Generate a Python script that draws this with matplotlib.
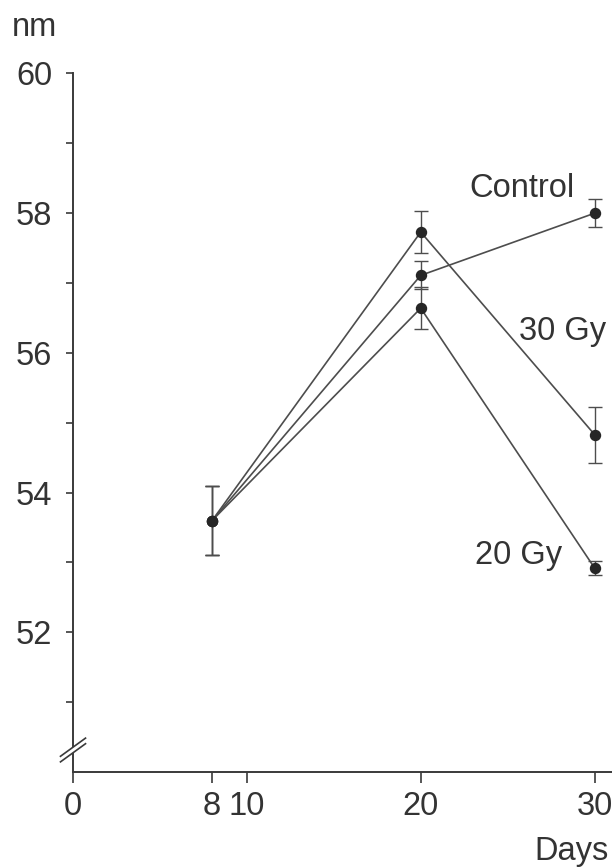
import matplotlib
matplotlib.use("Agg")
import matplotlib.pyplot as plt
import numpy as np

plt.rcParams['font.family'] = ['Liberation Sans', 'DejaVu Sans']

# Measurement days and mean values (nm) per group
days = [8, 20, 30]
control = [53.6, 57.11, 58.0]
gy30 = [53.6, 57.73, 54.83]
gy20 = [53.6, 56.64, 52.92]

# Standard errors per group
control_err = [0.5, 0.2, 0.2]
gy30_err = [0.5, 0.3, 0.4]
gy20_err = [0.5, 0.3, 0.1]

series_names = ["Control", "30 Gy", "20 Gy"]

x_ticks = [0, 8, 10, 20, 30]
x_tick_labels = ["0", "8", "10", "20", "30"]
y_major = [52, 54, 56, 58, 60]
y_minor = [51, 53, 55, 57, 59]

ink = "#333333"
line_col = "#4d4d4d"
fs = 23.5

fig = plt.figure(figsize=(6.12, 8.68), dpi=100)
fig.patch.set_facecolor("white")
ax = fig.add_axes([73 / 612, 1 - 772 / 868, (612 - 73) / 612, (772 - 73.5) / 868])
ax.set_xlim(0, 31)
ax.set_ylim(50, 60)

for vals, errs in [(control, control_err), (gy30, gy30_err), (gy20, gy20_err)]:
    ax.plot(days, vals, color=line_col, lw=1.2, zorder=2)
    ax.errorbar(days, vals, yerr=errs, fmt="none", ecolor=line_col,
                elinewidth=1.0, capsize=4.7, capthick=1.0, zorder=2)
    ax.plot(days, vals, "o", color="#262626", ms=7.2, zorder=3, clip_on=False)

# Spines and ticks
for s in ["top", "right"]:
    ax.spines[s].set_visible(False)
for s in ["left", "bottom"]:
    ax.spines[s].set_color("#3a3a3a")
    ax.spines[s].set_linewidth(1.4)

ax.set_xticks(x_ticks)
ax.set_xticklabels(x_tick_labels)
ax.set_yticks(y_major)
ax.set_yticks(y_minor, minor=True)
ax.tick_params(axis="x", direction="out", length=8, width=1.2, colors="#3a3a3a",
               labelcolor=ink, labelsize=fs, pad=6)
ax.tick_params(axis="y", which="both", direction="out", length=5, width=1.2,
               colors="#3a3a3a", labelcolor=ink, labelsize=fs, pad=10)

# Axis break marks on the y axis
yc, dx, dy, gap = 50.315, 0.72, 0.13, 0.04
xs = np.array([-dx, dx])
ax.fill([-dx, dx, dx, -dx], [yc - dy - gap, yc + dy - gap, yc + dy + gap, yc - dy + gap],
        color="white", zorder=4, clip_on=False, lw=0)
for off in (-gap, gap):
    ax.plot(xs, [yc - dy + off, yc + dy + off], color="#3a3a3a", lw=1.2,
            zorder=5, clip_on=False)

# Series labels
ax.text(28.85, 58.23, series_names[0], ha="right", va="baseline", fontsize=fs, color=ink)
ax.text(30.69, 56.18, series_names[1], ha="right", va="baseline", fontsize=fs, color=ink)
ax.text(28.16, 52.98, series_names[2], ha="right", va="baseline", fontsize=fs, color=ink)

# Axis unit labels
fig.text(12 / 612, 1 - 36 / 868, "nm", ha="left", va="baseline", fontsize=fs, color=ink)
fig.text(609 / 612, 1 - 860 / 868, "Days", ha="right", va="baseline", fontsize=fs, color=ink)

fig.savefig("out.png", dpi=100, facecolor="white")
